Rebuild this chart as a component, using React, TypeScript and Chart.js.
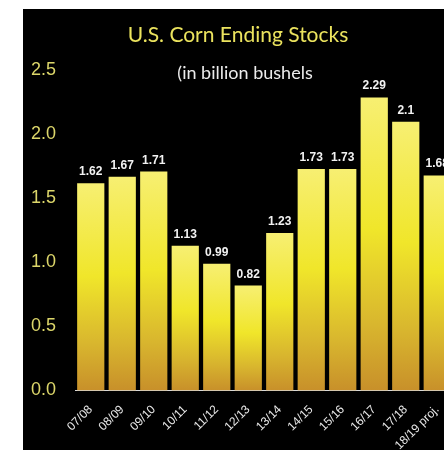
import React, { useEffect, useRef } from "react";
import { Chart, registerables } from "chart.js";

Chart.register(...registerables);

const categories = ["07/08", "08/09", "09/10", "10/11", "11/12", "12/13", "13/14", "14/15", "15/16", "16/17", "17/18", "18/19 proj."];
const endingStocks = [1.62, 1.67, 1.71, 1.13, 0.99, 0.82, 1.23, 1.73, 1.73, 2.29, 2.1, 1.68];
const titleText = "U.S. Corn Ending Stocks";
const subtitleText = "(in billion bushels";

const barLabels = {
  id: "barLabels",
  afterDatasetsDraw(chart: any) {
    const ctx = chart.ctx;
    const meta = chart.getDatasetMeta(0);
    ctx.save();
    ctx.fillStyle = "#f2f2f2";
    ctx.font = "bold 12px 'Liberation Sans', Arial, sans-serif";
    ctx.textAlign = "center";
    ctx.textBaseline = "alphabetic";
    meta.data.forEach((bar: any, i: number) => {
      ctx.fillText(String(endingStocks[i]), bar.x, bar.y - 8);
    });
    ctx.restore();
  },
};

const subtitleInside = {
  id: "subtitleInside",
  afterDraw(chart: any) {
    const ctx = chart.ctx;
    ctx.save();
    ctx.fillStyle = "#ececec";
    ctx.font = "18px Lato, 'Open Sans', sans-serif";
    ctx.textAlign = "center";
    ctx.textBaseline = "middle";
    ctx.fillText(subtitleText, chart.width / 2 - 3, chart.chartArea.top + 3);
    ctx.restore();
  },
};

export default function App() {
  const ref = useRef<HTMLCanvasElement>(null);
  useEffect(() => {
    if (!ref.current) return;
    const chart = new Chart(ref.current, {
      type: "bar",
      data: {
        labels: categories,
        datasets: [
          {
            data: endingStocks,
            borderWidth: 0,
            barPercentage: 0.96,
            categoryPercentage: 0.9,
            backgroundColor: (c: any) => {
              const ch = c.chart;
              if (!ch.chartArea || c.raw === undefined) return "#e8d830";
              const top = ch.scales.y.getPixelForValue(c.raw);
              const bottom = ch.scales.y.getPixelForValue(0);
              const g = ch.ctx.createLinearGradient(0, top, 0, bottom);
              g.addColorStop(0, "#f7ef72");
              g.addColorStop(0.45, "#f0e62a");
              g.addColorStop(0.78, "#d8b52e");
              g.addColorStop(1, "#c8902a");
              return g;
            },
          },
        ],
      },
      options: {
        responsive: false,
        animation: false,
        layout: { padding: { left: 0, right: 20, top: 0, bottom: 0 } },
        plugins: {
          legend: { display: false },
          tooltip: { enabled: false },
          title: {
            display: true,
            text: titleText,
            color: "#ebe35e",
            font: { family: "Lato, 'Open Sans', sans-serif", size: 21, weight: "normal" },
            padding: { top: 14, bottom: 22.3 },
          },
        },
        scales: {
          x: {
            grid: { display: false, drawTicks: false },
            border: { display: true, color: "#d8d8d8", width: 1 },
            ticks: {
              color: "#e8e8e8",
              font: { family: "'Liberation Sans', Arial, sans-serif", size: 12 },
              minRotation: 45,
              maxRotation: 45,
              padding: 12,
            },
            afterFit: (s: any) => {
              s.height = 59.5;
            },
          },
          y: {
            min: 0,
            max: 2.5,
            grid: { display: false, drawTicks: false },
            border: { display: false },
            ticks: {
              stepSize: 0.5,
              color: "#dcd66a",
              font: { family: "'Liberation Sans', Arial, sans-serif", size: 18 },
              padding: 19,
              callback: (v: any) => Number(v).toFixed(1),
            },
            afterFit: (s: any) => {
              s.width = 52;
            },
          },
        },
      },
      plugins: [barLabels, subtitleInside],
    });
    return () => chart.destroy();
  }, []);
  return (
    <div
      style={{
        position: "fixed",
        left: 23,
        top: 9,
        width: 421,
        height: 441,
        background: "#000",
        overflow: "hidden",
      }}
    >
      <canvas ref={ref} width={450} height={441} style={{ display: "block" }} />
    </div>
  );
}
